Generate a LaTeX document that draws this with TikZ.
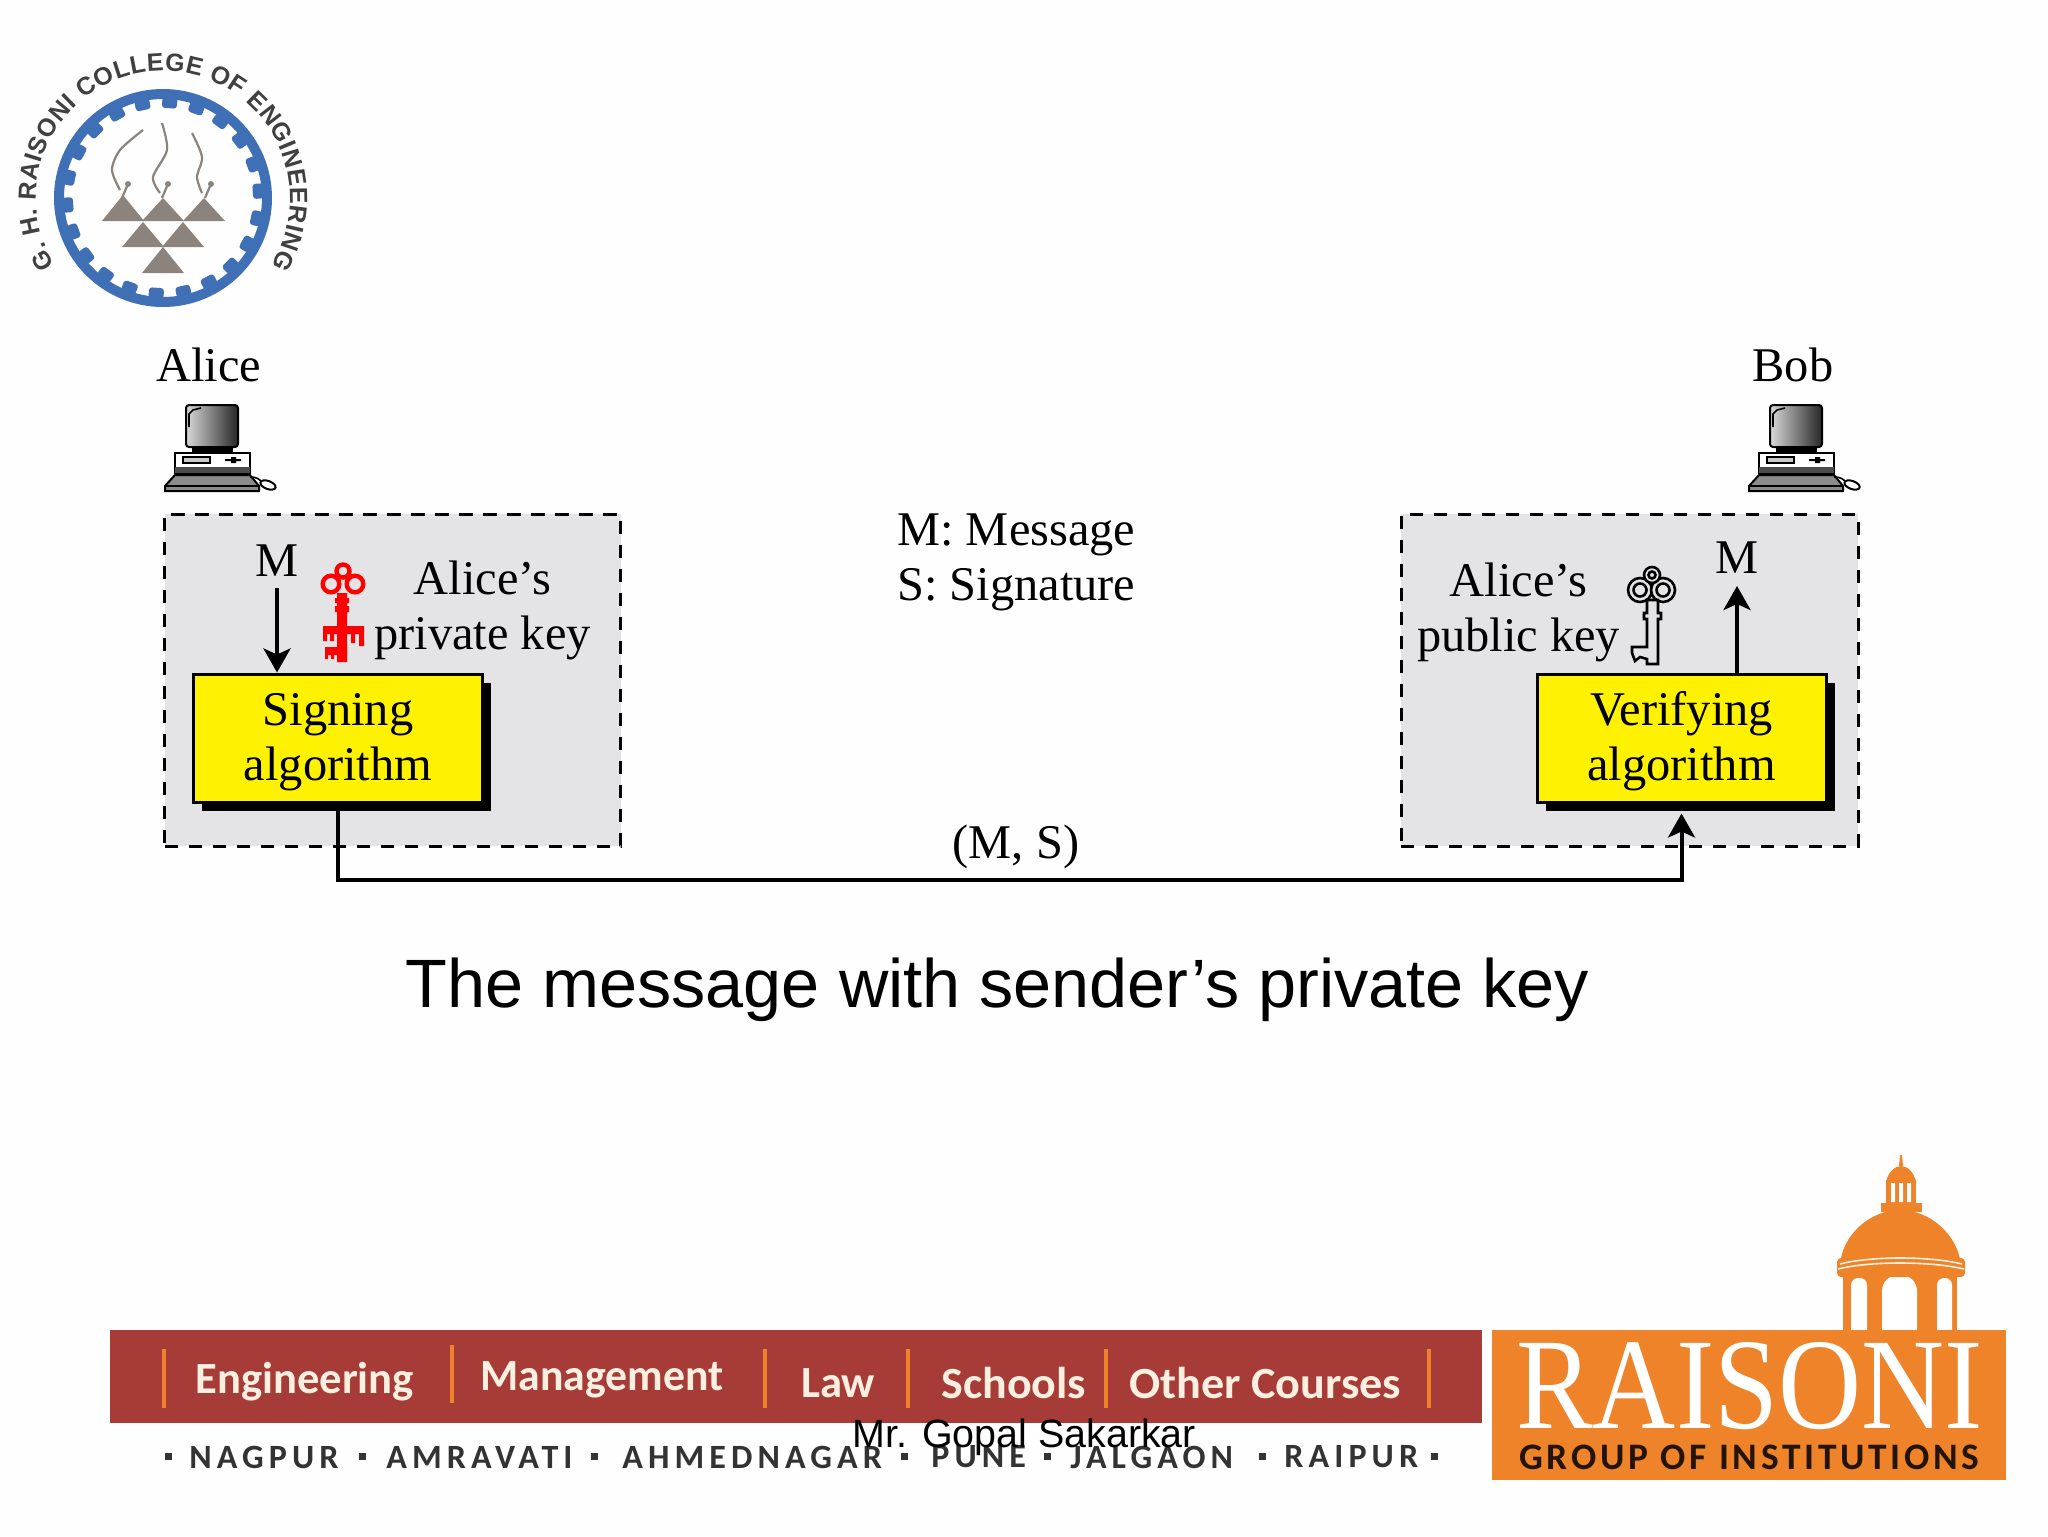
\documentclass[tikz,border=0pt]{standalone}
\usepackage{fontspec}
\usepackage{tikz}
\usetikzlibrary{arrows.meta, positioning, shadows, decorations.text}
\setmainfont{Liberation Serif}
\setsansfont{Liberation Sans}
\newfontfamily\bannerfont{Carlito}
\newfontfamily\cityfont[LetterSpace=15]{Carlito}
\newfontfamily\groupfont[LetterSpace=10]{Carlito}

\definecolor{panelgray}{HTML}{E4E4E6}
\definecolor{logoblue}{HTML}{3F70B6}
\definecolor{logogray}{HTML}{8B837C}
\definecolor{bannerred}{HTML}{A63B37}
\definecolor{raisoni}{HTML}{EE8329}
\definecolor{cream}{HTML}{FBEFE0}

\tikzset{
  panel/.style={draw=black, fill=panelgray, line width=1.5pt, dash pattern=on 6.7pt off 5.3pt, minimum height=166pt},
  algo/.style={draw=black, fill=yellow, line width=1.5pt, minimum width=144.5pt, minimum height=64pt,
    drop shadow={shadow xshift=4.7pt, shadow yshift=-4.7pt, fill=black, opacity=1}},
  lbl/.style={font=\fontsize{24.2}{27.5}\selectfont, inner sep=0pt, align=center},
  flow/.style={line width=2pt, -{Stealth[length=12pt, width=13.5pt, inset=3pt]}},
  banner/.style={font=\bannerfont\bfseries\fontsize{22.3}{24}\selectfont, text=cream, inner sep=0pt, anchor=west},
  city/.style={font=\cityfont\bfseries\fontsize{17}{18}\selectfont, text=black!80, inner sep=0pt, anchor=west},
  sep/.style={draw=raisoni, line width=2pt},
  smoke/.style={draw=logogray, line width=1.1pt},
  computer/.pic={
    \draw[line width=1pt, rounded corners=1.5pt, left color=white!85!black, right color=black!85] (21,0) rectangle (73,42);
    \draw[black, line width=.8pt] (24,22) -- (24,9) -- (28,5) -- (36,3);
    \fill[black] (27,42) rectangle (68,47);
    \draw[line width=1pt, fill=white] (10,48) rectangle (85,68);
    \fill[black!70] (10,62) rectangle (85,68);
    \draw[line width=.7pt, fill=white!80!black] (18,52) rectangle (45,58);
    \fill[black] (60,54) rectangle (76,56) (66,52) rectangle (71,58);
    \draw[line width=1pt, fill=black!45] (10,70) -- (85,70) -- (94,81) -- (94,86) -- (0,86) -- (0,81) -- cycle;
    \draw[line width=.8pt] (0,81) -- (94,81);
    \draw[line width=.8pt] (85,72) .. controls (92,72) and (94,74) .. (98,78);
    \draw[line width=1pt, fill=white, rotate around={-20:(103,80)}] (103,80) ellipse (8 and 4);
  },
  redkey/.pic={
    \draw[red, line width=2.2pt] (-12,21) circle (8.3) (12,21) circle (8.3) (0,8) circle (6.5);
    \fill[red] (-6,30) rectangle (4,99) (-8,35) rectangle (6,40) (-8,43) rectangle (6,49);
    \fill[red] (-20,63) rectangle (21,71) (-18,84) rectangle (4,92);
    \fill[red] (-20,71) rectangle (-16,78) (-13,71) rectangle (-9,78) (8,71) rectangle (12,80) (16,71) rectangle (21,83);
    \fill[red] (-18,92) rectangle (-15,96) (-12,92) rectangle (-9,96);
  },
  greykey/.pic={
    \foreach \hx/\hy/\hr in {-12/23/12, 11/23/12, 0/8/8}{
      \draw[line width=1.3pt, fill=panelgray] (\hx,\hy) circle (\hr);
    }
    \foreach \hx/\hy/\hr in {-12/23/6.5, 11/23/6.5, 0/8/3.5}{
      \draw[line width=1.3pt, fill=panelgray] (\hx,\hy) circle (\hr);
    }
    \draw[line width=1.3pt, fill=panelgray] (-5,33) -- (-5,46) -- (-8,46) -- (-8,52) -- (-5,52) -- (-5,80) -- (-20,80) -- (-20,86) -- (-17,94) -- (-12,90) -- (-5,92) -- (-5,97) -- (6,97) -- (6,52) -- (9,52) -- (9,46) -- (6,46) -- (6,33) -- cycle;
  }
}

\begin{document}
\begin{tikzpicture}[x=.5pt, y=-.5pt]
  \useasboundingbox (0,0) rectangle (2048,1536);
  \fill[white!99.6!black] (0,0) rectangle (2048,1536);

  % College logo
  \begin{scope}[shift={(163,198)}, x=.5pt, y=.5pt]
    \draw[logoblue, line width=5pt] (0,0) circle (104);
    \foreach \k in {0,...,21}{
      \fill[logoblue, rotate={86+\k*16.36}, rounded corners=1.5pt] (90,-7.5) rectangle (101,7.5);
    }
    \foreach \ax/\ay/\ah in {-40/3/26, 0/0/23, 41/0/23, -20/-24/25, 20/-24/25, 0/-49/26}{
      \fill[logogray] (\ax,\ay) -- (\ax+21,\ay-\ah) -- (\ax-21,\ay-\ah) -- cycle;
    }
    \foreach \bx in {-35,5,48}{
      \fill[logogray] (\bx,14) circle (3);
      \draw[smoke] (\bx,14) -- (\bx-6,0);
    }
    \draw[smoke] plot[smooth] coordinates {(-43,8) (-51,28) (-43,48) (-20,68)};
    \draw[smoke] plot[smooth] coordinates {(-3,5) (-10,21) (4,48) (-1,75)};
    \draw[smoke] plot[smooth] coordinates {(39,5) (34,21) (39,41) (29,65)};
    \path[decorate, decoration={text along path, text align={fit to path},
      text={|\sffamily\bfseries\fontsize{12.5}{12.5}\selectfont\color{black!75}|G. H. RAISONI COLLEGE OF ENGINEERING}}]
      (212:127) arc (212:-32:127);
  \end{scope}

  % Alice and Bob
  \node[lbl] (alice) at (209,365) {Alice};
  \node[lbl] (bob) at (1793,365) {Bob};
  \pic at (165,405) {computer};
  \pic at (1749,405) {computer};

  % Sender side
  \node[panel, minimum width=228pt] (alicePanel) at (392.5,680) {};
  \node[algo] (signing) at (337.5,738) {};
  \node[lbl] (signingText) at (338,742) {Signing\\algorithm};
  \node[lbl] (msgIn) at (277,561) {M};
  \coordinate (msgInEnd) at (277,588);
  \draw[flow] (msgInEnd) -- (msgInEnd |- signing.north);
  \pic at (343,563) {redkey};
  \node[lbl] (privateKey) at (482.5,610.5) {Alice’s\\private key};

  % Receiver side
  \node[panel, minimum width=228.5pt] (bobPanel) at (1629.5,680) {};
  \node[algo] (verifying) at (1681.5,738) {};
  \node[lbl] (verifyingText) at (1681.5,741) {Verifying\\algorithm};
  \node[lbl] (msgOut) at (1737,558) {M};
  \coordinate (msgOutEnd) at (1737,586);
  \draw[flow] (msgOutEnd |- verifying.north) -- (msgOutEnd);
  \pic at (1652,567) {greykey};
  \node[lbl] (publicKey) at (1518.5,612) {Alice’s\\public key};

  % Legend and channel
  \node[lbl, align=left, anchor=west] (legend) at (897,562.5) {M: Message\\S: Signature};
  \node[lbl] (channel) at (1016,847) {(M, S)};
  \coordinate (wireY) at (1016,880);
  \draw[flow, shorten >=5pt] (signing.south) -- (signing.south |- wireY) -| (verifying.south);

  \node[font=\sffamily\fontsize{34.2}{36}\selectfont, inner sep=0pt] (caption) at (997.5,990) {The message with sender’s private key};

  % Footer banner
  \fill[bannerred] (110,1330) rectangle (1482,1423);
  \foreach \sx/\sa/\sb in {164/1349/1408, 452/1345/1403, 765/1349/1408, 908/1349/1408, 1106/1349/1408, 1429/1349/1408}{
    \draw[sep] (\sx,\sa) -- (\sx,\sb);
  }
  \node[banner] (eng) at (195,1382) {Engineering};
  \node[banner, xscale=.98] (mgmt) at (480,1380) {Management};
  \node[banner] (law) at (801,1383) {Law};
  \node[banner, xscale=1.03] (schools) at (941,1383) {Schools};
  \node[banner, xscale=1.035] (other) at (1129,1383) {Other Courses};
  \foreach \wx/\wname in {189/NAGPUR, 386/AMRAVATI, 622/AHMEDNAGAR, 931/PUNE, 1070/JALGAON, 1284/RAIPUR}{
    \node[city] (city\wname) at (\wx,1457) {\wname};
  }
  \foreach \qx in {168,362,594,904,1047,1262,1434}{
    \fill[black!80] (\qx-3.5,1453) rectangle (\qx+3.5,1460);
  }

  % Raisoni emblem
  \fill[raisoni] (1843,1274) rectangle (1957,1331);
  \fill[white, rounded corners=3.5pt] (1851,1340) -- (1851,1278) -- (1867,1278) -- (1867,1340) -- cycle;
  \fill[white, rounded corners=8pt] (1882,1345) -- (1882,1275) -- (1917,1275) -- (1917,1345) -- cycle;
  \fill[white, rounded corners=3.5pt] (1937,1340) -- (1937,1278) -- (1952,1278) -- (1952,1340) -- cycle;
  \fill[raisoni] (1492,1330) rectangle (2006,1480);
  \node[font=\fontsize{65}{65}\selectfont, text=white, inner sep=0pt, xscale=.885] (raisoniName) at (1749.5,1386) {RAISONI};
  \node[font=\groupfont\bfseries\fontsize{18.7}{20}\selectfont, text=black!85!raisoni, inner sep=0pt] (groupName) at (1749.5,1457) {GROUP OF INSTITUTIONS};
  \fill[raisoni] (1840,1265) .. controls (1842,1235) and (1870,1210) .. (1900,1210) .. controls (1930,1210) and (1958,1235) .. (1961,1265) -- cycle;
  \fill[raisoni, rounded corners=2pt] (1837,1258) rectangle (1965,1277);
  \draw[cream, line width=.8pt] (1840,1264) .. controls (1870,1256) and (1930,1256) .. (1962,1264);
  \draw[cream, line width=.8pt] (1838,1269) .. controls (1870,1261) and (1930,1261) .. (1964,1269);
  \fill[raisoni] (1881,1203) rectangle (1922,1212);
  \fill[raisoni] (1886,1180) rectangle (1916,1204);
  \fill[raisoni] (1886,1182) .. controls (1888,1172) and (1895,1166) .. (1901,1166) .. controls (1907,1166) and (1914,1172) .. (1916,1182) -- cycle;
  \fill[raisoni] (1899,1166) -- (1900,1155) -- (1902,1155) -- (1903,1166) -- cycle;
  \fill[white] (1891,1183) rectangle (1895,1202) (1899,1183) rectangle (1903,1202) (1907,1183) rectangle (1911,1202);

  \node[font=\sffamily\fontsize{19.7}{20}\selectfont, inner sep=0pt] (presenter) at (1024.5,1437) {Mr. Gopal Sakarkar};
\end{tikzpicture}
\end{document}
